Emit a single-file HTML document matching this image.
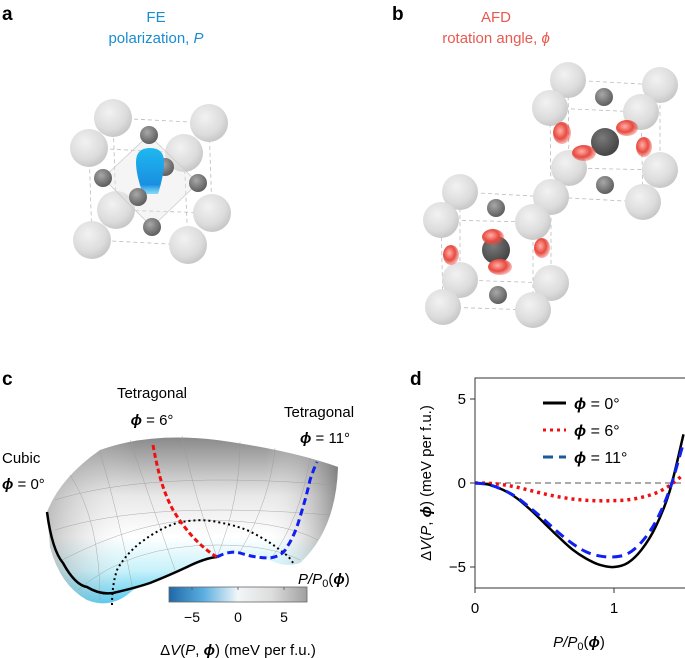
<!DOCTYPE html>
<html><head><meta charset="utf-8"><style>
html,body{margin:0;padding:0;background:#fff}
svg{display:block;font-family:"Liberation Sans",sans-serif}
</style></head><body>
<svg id="fig" width="685" height="658" viewBox="0 0 685 658">
<defs>
<radialGradient id="big" cx="40%" cy="35%" r="65%"><stop offset="0" stop-color="#f2f2f2"/><stop offset="0.7" stop-color="#dcdcdc"/><stop offset="1" stop-color="#c8c8c8"/></radialGradient>
<radialGradient id="small" cx="40%" cy="35%" r="65%"><stop offset="0" stop-color="#a8a8a8"/><stop offset="1" stop-color="#5e5e5e"/></radialGradient>
<radialGradient id="dark" cx="40%" cy="35%" r="65%"><stop offset="0" stop-color="#7a7a7a"/><stop offset="1" stop-color="#444"/></radialGradient>
<radialGradient id="redb" cx="40%" cy="40%" r="60%"><stop offset="0" stop-color="#ffb0a8"/><stop offset="0.6" stop-color="#e84a40"/><stop offset="1" stop-color="#e84a40" stop-opacity="0.4"/></radialGradient>
<linearGradient id="blueb" x1="0" y1="0" x2="0" y2="1"><stop offset="0" stop-color="#1eb8f0"/><stop offset="0.8" stop-color="#1a8fe0"/><stop offset="1" stop-color="#40c8f8" stop-opacity="0.6"/></linearGradient>
<linearGradient id="surf" x1="0" y1="0" x2="0" y2="1"><stop offset="0" stop-color="#8a8a8a"/><stop offset="0.35" stop-color="#e8e8e8"/><stop offset="0.6" stop-color="#ffffff"/><stop offset="0.8" stop-color="#c8f2fa"/><stop offset="1" stop-color="#48c6ee"/></linearGradient>
<linearGradient id="surfx" x1="0" y1="0" x2="1" y2="0"><stop offset="0" stop-color="#888" stop-opacity="0.5"/><stop offset="0.3" stop-color="#fff" stop-opacity="0"/><stop offset="0.75" stop-color="#fff" stop-opacity="0"/><stop offset="1" stop-color="#666" stop-opacity="0.7"/></linearGradient>
<linearGradient id="cbar" x1="0" y1="0" x2="1" y2="0"><stop offset="0" stop-color="#1f68a8"/><stop offset="0.25" stop-color="#5aaee0"/><stop offset="0.5" stop-color="#f2f6f8"/><stop offset="0.75" stop-color="#dcdcdc"/><stop offset="1" stop-color="#a0a0a0"/></linearGradient>
<clipPath id="dclip"><rect x="475" y="378" width="210" height="210"/></clipPath>
</defs>

<!-- panel a -->
<text x="2" y="20" font-size="19" font-weight="bold">a</text>
<text x="156" y="22" font-size="15" fill="#1a8cd0" text-anchor="middle">FE</text>
<text x="156" y="43" font-size="15" fill="#1a8cd0" text-anchor="middle">polarization, <tspan font-style="italic">P</tspan></text>
<g stroke="#bbb" stroke-width="0.8" stroke-dasharray="4 3" fill="none">
<polygon points="113,118 209,123 212,213 116,210"/><polygon points="89,148 184,153 188,245 92,240"/>
</g>
<g>
<circle cx="113" cy="118" r="19" fill="url(#big)"/><circle cx="209" cy="123" r="19" fill="url(#big)"/>
<circle cx="89" cy="148" r="19" fill="url(#big)"/><circle cx="184" cy="153" r="19" fill="url(#big)"/>
<circle cx="116" cy="210" r="19" fill="url(#big)"/><circle cx="212" cy="213" r="19" fill="url(#big)"/>
<circle cx="92" cy="240" r="19" fill="url(#big)"/><circle cx="188" cy="245" r="19" fill="url(#big)"/>
<g stroke="#ccc" stroke-width="0.8" fill="rgba(230,230,230,0.4)"><polygon points="149,135 103,178 152,227 198,183"/></g>
<circle cx="149" cy="135" r="9" fill="url(#small)"/><circle cx="165" cy="167" r="9" fill="url(#small)"/>
<circle cx="103" cy="178" r="9" fill="url(#small)"/><circle cx="198" cy="183" r="9" fill="url(#small)"/>
<path d="M136,162 Q136,148 150,148 Q164,148 164,162 Q164,175 158,194 L143,194 Q136,175 136,162Z" fill="url(#blueb)"/>
<circle cx="138" cy="197" r="9" fill="url(#small)"/><circle cx="152" cy="227" r="9" fill="url(#small)"/>
</g>

<!-- panel b -->
<text x="392" y="20" font-size="19" font-weight="bold">b</text>
<text x="496" y="22" font-size="15" fill="#e85a50" text-anchor="middle">AFD</text>
<text x="496" y="43" font-size="15" fill="#e85a50" text-anchor="middle">rotation angle, <tspan font-style="italic">ϕ</tspan></text>
<g>
<g stroke="#bbb" stroke-width="0.8" stroke-dasharray="4 3" fill="none">
<polygon points="568,80 660,85 660,170 569,168"/><polygon points="550,108 641,112 643,202 551,197"/>
<polygon points="460,192 551,197 551,283 460,280"/><polygon points="441,220 533,222 533,310 443,307"/>
</g>
<circle cx="568" cy="80" r="18" fill="url(#big)"/><circle cx="660" cy="85" r="18" fill="url(#big)"/>
<circle cx="550" cy="108" r="18" fill="url(#big)"/><circle cx="641" cy="112" r="18" fill="url(#big)"/>
<circle cx="569" cy="168" r="18" fill="url(#big)"/><circle cx="660" cy="170" r="18" fill="url(#big)"/>
<circle cx="643" cy="202" r="18" fill="url(#big)"/>
<circle cx="604" cy="97" r="9" fill="url(#small)"/><circle cx="605" cy="185" r="9" fill="url(#small)"/>
<circle cx="605" cy="142" r="14" fill="url(#dark)"/>
<ellipse cx="562" cy="133" rx="9" ry="11" fill="url(#redb)"/><ellipse cx="627" cy="128" rx="11" ry="8" fill="url(#redb)"/>
<ellipse cx="644" cy="147" rx="8" ry="10" fill="url(#redb)"/><ellipse cx="584" cy="153" rx="12" ry="8" fill="url(#redb)"/>
<circle cx="460" cy="192" r="18" fill="url(#big)"/><circle cx="551" cy="197" r="18" fill="url(#big)"/>
<circle cx="441" cy="220" r="18" fill="url(#big)"/><circle cx="533" cy="222" r="18" fill="url(#big)"/>
<circle cx="460" cy="280" r="18" fill="url(#big)"/><circle cx="551" cy="283" r="18" fill="url(#big)"/>
<circle cx="443" cy="307" r="18" fill="url(#big)"/><circle cx="533" cy="310" r="18" fill="url(#big)"/>
<circle cx="496" cy="208" r="9" fill="url(#small)"/><circle cx="498" cy="295" r="9" fill="url(#small)"/>
<circle cx="496" cy="250" r="14" fill="url(#dark)"/>
<ellipse cx="451" cy="255" rx="8" ry="10" fill="url(#redb)"/><ellipse cx="542" cy="248" rx="8" ry="10" fill="url(#redb)"/>
<ellipse cx="493" cy="237" rx="11" ry="8" fill="url(#redb)"/><ellipse cx="500" cy="267" rx="12" ry="8" fill="url(#redb)"/>
</g>

<!-- panel c -->
<text x="2" y="385" font-size="19" font-weight="bold">c</text>
<text x="152" y="398" font-size="15" text-anchor="middle">Tetragonal</text>
<text x="152" y="425" font-size="15" text-anchor="middle"><tspan font-style="italic" font-weight="bold">ϕ</tspan> = 6°</text>
<text x="284" y="417" font-size="15">Tetragonal</text>
<text x="300" y="443" font-size="15"><tspan font-style="italic" font-weight="bold">ϕ</tspan> = 11°</text>
<text x="2" y="463" font-size="15">Cubic</text>
<text x="2" y="489" font-size="15"><tspan font-style="italic" font-weight="bold">ϕ</tspan> = 0°</text>
<g>
<path d="M47,512 Q60,478 100,450 Q150,432 217,440 Q290,450 338,467 Q336,530 300,563 Q285,568 270,560 Q245,548 217,557 Q180,570 133,590 Q112,610 87,600 Q60,585 50,547 Z" fill="url(#surf)"/>
<path d="M47,512 Q60,478 100,450 Q150,432 217,440 Q290,450 338,467 Q336,530 300,563 Q285,568 270,560 Q245,548 217,557 Q180,570 133,590 Q112,610 87,600 Q60,585 50,547 Z" fill="url(#surfx)"/>
<g stroke="#999" stroke-width="0.5" fill="none" opacity="0.8">
<path d="M70,475 Q100,520 100,600"/><path d="M100,452 Q120,520 133,590"/><path d="M130,440 Q150,500 175,570"/>
<path d="M182,436 Q195,500 217,557"/><path d="M240,442 Q240,500 217,557"/><path d="M275,448 Q270,500 240,552"/>
<path d="M310,458 Q300,520 270,560"/>
<path d="M55,500 Q150,470 335,485"/><path d="M55,530 Q150,500 330,515"/><path d="M62,560 Q140,520 200,520 Q280,520 318,540"/>
<path d="M78,590 Q130,545 217,545 Q270,545 300,560"/>
</g>
</g>
<path d="M47,512 Q52,550 63,563 Q75,585 87,587 Q100,595 113,593 Q135,588 150,583 Q170,575 187,567 Q205,558 217,557" fill="none" stroke="#000" stroke-width="2.5"/>
<path d="M112,605 Q112,585 117,570 Q125,555 140,543 Q160,528 177,523 Q200,518 217,522 Q240,526 253,533 Q270,542 280,550 Q290,557 293,563" fill="none" stroke="#000" stroke-width="2" stroke-dasharray="2 3"/>
<path d="M153,445 Q156,462 160,477 Q165,495 173,510 Q182,525 193,537 Q205,550 217,557" fill="none" stroke="#f01010" stroke-width="3" stroke-dasharray="5 3"/>
<path d="M217,557 Q230,550 240,553 Q255,558 270,558 Q283,556 287,547 Q295,535 300,517 Q306,498 310,480 Q314,468 317,462" fill="none" stroke="#1020f0" stroke-width="3" stroke-dasharray="7 4"/>
<text x="298" y="584" font-size="15" font-style="italic">P/P<tspan font-style="normal" font-size="11" dy="3">0</tspan><tspan dy="-3" font-style="normal">(</tspan><tspan font-weight="bold">ϕ</tspan><tspan font-style="normal">)</tspan></text>
<rect x="169" y="587" width="138" height="15" fill="url(#cbar)" stroke="#666" stroke-width="0.8"/>
<g stroke="#555" stroke-width="0.8"><line x1="192" y1="587" x2="192" y2="590"/><line x1="238" y1="587" x2="238" y2="590"/><line x1="284" y1="587" x2="284" y2="590"/></g>
<g font-size="14" text-anchor="middle"><text x="192" y="622">−5</text><text x="238" y="622">0</text><text x="284" y="622">5</text></g>
<text x="238" y="655" font-size="15" text-anchor="middle">Δ<tspan font-style="italic">V</tspan>(<tspan font-style="italic">P</tspan>, <tspan font-style="italic" font-weight="bold">ϕ</tspan>) (meV per f.u.)</text>

<!-- panel d -->
<text x="410" y="385" font-size="19" font-weight="bold">d</text>
<g id="dplot"></g>
</svg>
<script>
const xs=[0,0.1,0.2,0.3,0.4,0.5,0.6,0.7,0.8,0.9,1.0,1.1,1.2,1.3,1.4,1.5];
const v0=[0,-0.1,-0.4,-0.9,-1.6,-2.4,-3.2,-3.95,-4.5,-4.88,-5.0,-4.75,-3.95,-2.6,-0.5,2.9];
const v6=[0,-0.02,-0.1,-0.25,-0.45,-0.65,-0.82,-0.95,-1.03,-1.06,-1.05,-1.0,-0.85,-0.6,-0.15,0.5];
const v11=[0,-0.1,-0.4,-0.85,-1.5,-2.2,-2.95,-3.6,-4.1,-4.35,-4.4,-4.2,-3.5,-2.3,-0.4,2.4];
const yTicks=[5,0,-5];
const xTicks=[0,1];
const ns='http://www.w3.org/2000/svg';
const g=document.getElementById('dplot');
const X=v=>475+v*139, Y=v=>483-v*16.8;
function mk(t,a){const e=document.createElementNS(ns,t);for(const k in a)e.setAttribute(k,a[k]);g.appendChild(e);return e;}
const fr=mk('rect',{x:475,y:378,width:215,height:210,fill:'none',stroke:'#333','stroke-width':1});


const zl=mk('line',{x1:475,x2:685,y1:Y(0),y2:Y(0),stroke:'#555','stroke-width':1,'stroke-dasharray':'6 4'});


yTicks.forEach(t=>{mk('line',{x1:470,x2:475,y1:Y(t),y2:Y(t),stroke:'#333'});
const e=mk('text',{x:466,y:Y(t)+5,'font-size':15,'text-anchor':'end'});e.textContent=t<0?'−'+(-t):t;

});
xTicks.forEach(t=>{mk('line',{x1:X(t),x2:X(t),y1:588,y2:593,stroke:'#333'});
const e=mk('text',{x:X(t),y:613,'font-size':15,'text-anchor':'middle'});e.textContent=t;

});
function smooth(vals){const p=xs.map((x,i)=>[X(x),Y(vals[i])]);let d='M'+p[0][0]+','+p[0][1];
for(let i=0;i<p.length-1;i++){const a=p[Math.max(0,i-1)],b=p[i],c=p[i+1],e=p[Math.min(p.length-1,i+2)];
d+=' C'+(b[0]+(c[0]-a[0])/6)+','+(b[1]+(c[1]-a[1])/6)+' '+(c[0]-(e[0]-b[0])/6)+','+(c[1]-(e[1]-b[1])/6)+' '+c[0]+','+c[1];}return d;}
function line(vals,color,dash,w,name){const p=mk('path',{d:smooth(vals),fill:'none',stroke:color,'stroke-width':w,'stroke-dasharray':dash,'clip-path':'url(#dclip)'});

}
line(v6,'#f01010','3 4',3.5,'series-phi-6');
line(v0,'#000','none',2.5,'series-phi-0');
line(v11,'#1020f0','10 6',3,'series-phi-11');
const leg=[['#000','none','0°'],['#f01010','3 4','6°'],['#1a5a9a','10 6','11°']];
leg.forEach((l,i)=>{const y=403+i*27;mk('line',{x1:543,x2:566,y1:y,y2:y,stroke:l[0],'stroke-width':3,'stroke-dasharray':l[1]});
const t=mk('text',{x:574,y:y+6,'font-size':16});t.innerHTML='<tspan font-style="italic" font-weight="bold">ϕ</tspan> = '+l[2];

});
const xt=mk('text',{x:579,y:647,'font-size':15,'text-anchor':'middle','font-style':'italic'});
xt.innerHTML='P/P<tspan font-style="normal" font-size="11" dy="3">0</tspan><tspan dy="-3" font-style="normal">(</tspan><tspan font-weight="bold">ϕ</tspan><tspan font-style="normal">)</tspan>';


const yt=mk('text',{x:0,y:0,'font-size':15,'text-anchor':'middle',transform:'translate(431,483) rotate(-90)'});
yt.innerHTML='Δ<tspan font-style="italic">V</tspan>(<tspan font-style="italic">P</tspan>, <tspan font-style="italic" font-weight="bold">ϕ</tspan>) (meV per f.u.)';


</script>
</body></html>
